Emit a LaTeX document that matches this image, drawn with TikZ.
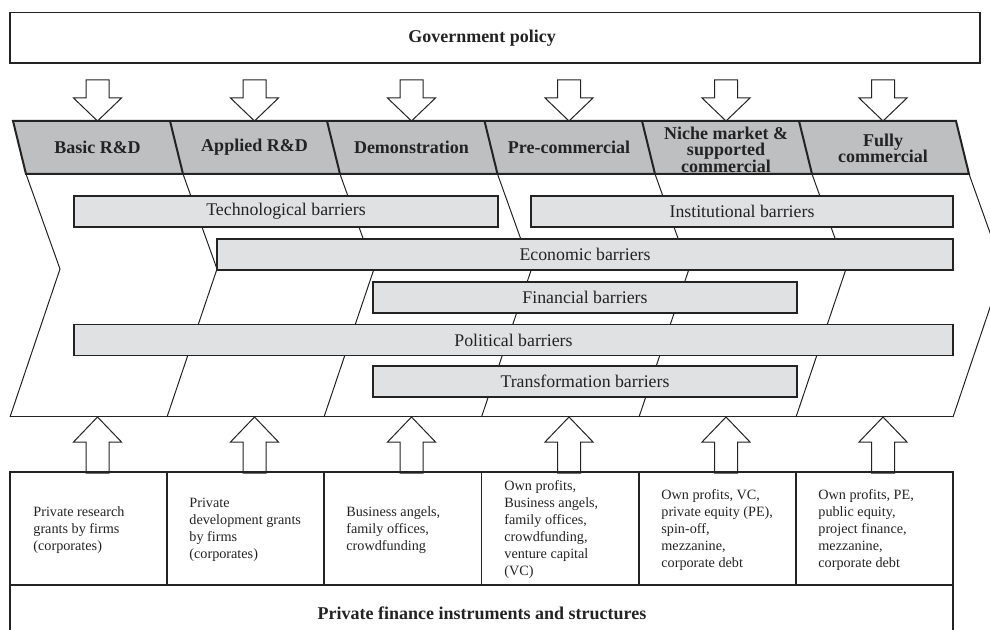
\documentclass[tikz,border=0pt]{standalone}
\usepackage{fontspec}
\setmainfont{Liberation Serif}
\definecolor{hdgray}{RGB}{190,191,193}
\definecolor{bargray}{RGB}{224,225,227}
\definecolor{ink}{RGB}{35,35,35}
\begin{document}
\begin{tikzpicture}[x=0.5pt, y=-0.5pt,
  stage/.style={font=\bfseries\fontsize{9}{8.3}\selectfont, align=center, text=ink, inner sep=0},
  bar/.style={draw=ink, line width=0.6pt, fill=bargray, minimum height=15.5pt, inner sep=0, font=\fontsize{8.9}{10}\selectfont, text=ink},
  fin/.style={anchor=west, align=left, inner sep=0, font=\fontsize{7.1}{8.5}\selectfont, text=ink},
  blk/.style={draw=ink, line width=0.5pt, fill=white},
  chev/.style={draw=ink, line width=0.5pt}]
\useasboundingbox (0,0) rectangle (990,630);
\clip (0,0) rectangle (990,630);
% government policy
\draw[draw=ink, line width=0.8pt] (10,12.5) rectangle (980,63);
\node[stage] (gov) at (482,38) {Government policy};
\draw[blk] (86,80) -- ++(23,0) -- ++(0,18) -- ++(12.5,0) -- ++(-24,23) -- ++(-24,-23) -- ++(12.5,0) -- cycle;
\draw[blk] (243,80) -- ++(23,0) -- ++(0,18) -- ++(12.5,0) -- ++(-24,23) -- ++(-24,-23) -- ++(12.5,0) -- cycle;
\draw[blk] (400,80) -- ++(23,0) -- ++(0,18) -- ++(12.5,0) -- ++(-24,23) -- ++(-24,-23) -- ++(12.5,0) -- cycle;
\draw[blk] (557.5,80) -- ++(23,0) -- ++(0,18) -- ++(12.5,0) -- ++(-24,23) -- ++(-24,-23) -- ++(12.5,0) -- cycle;
\draw[blk] (714.5,80) -- ++(23,0) -- ++(0,18) -- ++(12.5,0) -- ++(-24,23) -- ++(-24,-23) -- ++(12.5,0) -- cycle;
\draw[blk] (871.5,80) -- ++(23,0) -- ++(0,18) -- ++(12.5,0) -- ++(-24,23) -- ++(-24,-23) -- ++(12.5,0) -- cycle;
% chevrons
\draw[chev] (26,174) -- (60,269) -- (10,417);
\draw[chev] (183,174) -- (217,269) -- (167,417);
\draw[chev] (340,174) -- (374,269) -- (324,417);
\draw[chev] (497.5,174) -- (531.5,269) -- (481.5,417);
\draw[chev] (655,174) -- (689,269) -- (639,417);
\draw[chev] (812,174) -- (846,269) -- (796,417);
\draw[chev] (969,174) -- (1003,269) -- (953,417);
\draw[chev] (10,417) -- (953,417);
% barriers
\node[bar, minimum width=212pt] (tech) at (286,211.5) {Technological barriers};
\node[bar, minimum width=211pt] (inst) at (742,211.5) {Institutional barriers};
\node[bar, minimum width=368pt] (econ) at (585,254.5) {Economic barriers};
\node[bar, minimum width=212pt] (finb) at (585,297.5) {Financial barriers};
\node[bar, minimum width=439.5pt] (pol) at (513.5,340) {Political barriers};
\node[bar, minimum width=212pt] (trans) at (585,381.5) {Transformation barriers};
% stages
\draw[draw=ink, line width=1pt, fill=hdgray] (13,121) -- (956,121) -- (969,174) -- (26,174) -- cycle;
\draw[draw=ink, line width=1pt] (170,121) -- (183,174);
\draw[draw=ink, line width=1pt] (327,121) -- (340,174);
\draw[draw=ink, line width=1pt] (484.5,121) -- (497.5,174);
\draw[draw=ink, line width=1pt] (642,121) -- (655,174);
\draw[draw=ink, line width=1pt] (799,121) -- (812,174);
\node[stage] (st1) at (97.5,147.5) {Basic R\&D};
\node[stage] (st2) at (254.5,147.5) {Applied R\&D};
\node[stage] (st3) at (411.5,147.5) {Demonstration};
\node[stage] (st4) at (569,147.5) {Pre-commercial};
\node[stage] (st5) at (726,149.5) {Niche market \&\\supported\\commercial};
\node[stage] (st6) at (883,148.5) {Fully\\commercial};
% private finance
\draw[blk] (86,473) -- ++(23,0) -- ++(0,-31) -- ++(12.5,0) -- ++(-24,-25) -- ++(-24,25) -- ++(12.5,0) -- cycle;
\draw[blk] (243,473) -- ++(23,0) -- ++(0,-31) -- ++(12.5,0) -- ++(-24,-25) -- ++(-24,25) -- ++(12.5,0) -- cycle;
\draw[blk] (400,473) -- ++(23,0) -- ++(0,-31) -- ++(12.5,0) -- ++(-24,-25) -- ++(-24,25) -- ++(12.5,0) -- cycle;
\draw[blk] (557.5,473) -- ++(23,0) -- ++(0,-31) -- ++(12.5,0) -- ++(-24,-25) -- ++(-24,25) -- ++(12.5,0) -- cycle;
\draw[blk] (714.5,473) -- ++(23,0) -- ++(0,-31) -- ++(12.5,0) -- ++(-24,-25) -- ++(-24,25) -- ++(12.5,0) -- cycle;
\draw[blk] (871.5,473) -- ++(23,0) -- ++(0,-31) -- ++(12.5,0) -- ++(-24,-25) -- ++(-24,25) -- ++(12.5,0) -- cycle;
\draw[draw=ink, line width=0.7pt] (10,472) rectangle (953,650);
\draw[draw=ink, line width=0.7pt] (10,585) -- (953,585);
\draw[draw=ink, line width=0.7pt] (167,472) -- (167,585);
\draw[draw=ink, line width=0.7pt] (324,472) -- (324,585);
\draw[draw=ink, line width=0.7pt] (481.5,472) -- (481.5,585);
\draw[draw=ink, line width=0.7pt] (639,472) -- (639,585);
\draw[draw=ink, line width=0.7pt] (796,472) -- (796,585);
\node[fin] (pf1) at (33,530) {Private research\\grants by firms\\(corporates)};
\node[fin] (pf2) at (189,530) {Private\\development grants\\by firms\\(corporates)};
\node[fin] (pf3) at (346,530) {Business angels,\\family offices,\\crowdfunding};
\node[fin] (pf4) at (504,530) {Own profits,\\Business angels,\\family offices,\\crowdfunding,\\venture capital\\(VC)};
\node[fin] (pf5) at (661,530) {Own profits, VC,\\private equity (PE),\\spin-off,\\mezzanine,\\corporate debt};
\node[fin] (pf6) at (818,530) {Own profits, PE,\\public equity,\\project finance,\\mezzanine,\\corporate debt};
\node[stage] (priv) at (482,613) {Private finance instruments and structures};
\end{tikzpicture}
\end{document}
